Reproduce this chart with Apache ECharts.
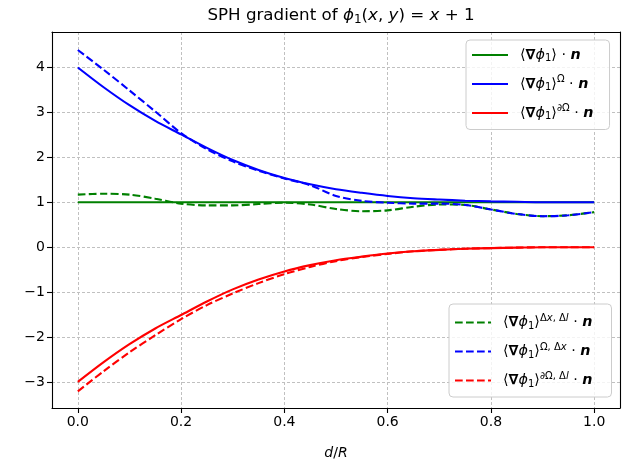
<!DOCTYPE html>
<html>
<head>
<meta charset="utf-8">
<script src="https://cdn.jsdelivr.net/npm/echarts@6/dist/echarts.min.js"></script>
<style>
  html, body { margin: 0; padding: 0; background: #fff; }
  #chart { width: 638px; height: 461px; }
</style>
</head>
<body>
<div id="chart"></div>
<script>
// d/R sample positions
const xs = [0, 0.05, 0.1, 0.15, 0.2, 0.25, 0.3, 0.35, 0.4, 0.45, 0.5,
            0.55, 0.6, 0.65, 0.7, 0.75, 0.8, 0.85, 0.9, 0.95, 1.0];
const xTicks = [0, 0.2, 0.4, 0.6, 0.8, 1.0];
const yTicks = [-3, -2, -1, 0, 1, 2, 3, 4];

// solid curves
const gradN = [1, 1, 1, 1, 1, 1, 1, 1, 1, 1, 1, 1, 1, 1, 1, 1, 1, 1, 1, 1, 1];
const gradOmega = [4.00, 3.56, 3.16, 2.81, 2.51, 2.21, 1.94, 1.72, 1.54, 1.40, 1.29,
                   1.21, 1.14, 1.09, 1.06, 1.035, 1.02, 1.01, 1.0, 1.0, 1.0];
const gradBound = [-3.00, -2.56, -2.16, -1.81, -1.51, -1.21, -0.94, -0.72, -0.54, -0.40, -0.29,
                   -0.21, -0.14, -0.09, -0.06, -0.035, -0.02, -0.01, 0, 0, 0];
// dashed curves (discrete)
const gradDisc = [1.17, 1.19, 1.17, 1.08, 0.97, 0.93, 0.93, 0.96, 0.99, 0.95, 0.85,
                  0.80, 0.82, 0.90, 0.95, 0.94, 0.84, 0.74, 0.69, 0.71, 0.78];
const gradOmegaDisc = [4.39, 3.95, 3.49, 3.02, 2.54, 2.18, 1.91, 1.70, 1.53, 1.38, 1.14,
                       1.03, 0.99, 0.97, 0.97, 0.94, 0.84, 0.74, 0.69, 0.71, 0.78];
const gradBoundDisc = [-3.21, -2.76, -2.34, -1.96, -1.60, -1.29, -1.03, -0.80, -0.60, -0.44, -0.31,
                       -0.22, -0.15, -0.09, -0.06, -0.035, -0.02, -0.01, 0, 0, 0];

const FONT = "DejaVu Sans";
const FS = 14.3;
const rich = {
  t: { fontFamily: FONT, fontSize: FS, color: "#000" },
  i: { fontFamily: FONT, fontSize: FS, fontStyle: "italic", color: "#000" },
  b: { fontFamily: FONT, fontSize: FS, fontWeight: "bold", color: "#000" },
  bi: { fontFamily: FONT, fontSize: FS, fontWeight: "bold", fontStyle: "italic", color: "#000" },
  sub: { fontFamily: FONT, fontSize: 10, color: "#000", padding: [7, 0, 0, 0] },
  sup: { fontFamily: FONT, fontSize: 10, color: "#000", padding: [0, 0, 9, 0] },
  supi: { fontFamily: FONT, fontSize: 10, fontStyle: "italic", color: "#000", padding: [0, 0, 9, 0] }
};

const head = "{t|⟨}{b|∇}{i|ϕ}{sub|1}{t|⟩}";
const labels = {
  grad: head + "{t| · }{bi|n}",
  gradO: head + "{sup|Ω}{t| · }{bi|n}",
  gradB: head + "{sup|∂Ω}{t| · }{bi|n}",
  gradD: head + "{sup|Δ}{supi|x}{sup|, Δ}{supi|l}{t| · }{bi|n}",
  gradOD: head + "{sup|Ω, Δ}{supi|x}{t| · }{bi|n}",
  gradBD: head + "{sup|∂Ω, Δ}{supi|l}{t| · }{bi|n}"
};

function pairs(arr) {
  return xs.map((x, i) => [x, arr[i]]);
}
function line(name, arr, color, dashed) {
  return {
    name: name,
    type: "line",
    data: pairs(arr),
    showSymbol: false,
    symbol: "none",
    smooth: 0.3,
    animation: false,
    lineStyle: { color: color, width: 2.1, type: dashed ? [7.7, 3.3] : "solid" },
    itemStyle: { color: color }
  };
}

const legendBase = {
  orient: "vertical",
  itemWidth: 36,
  itemHeight: 12,
  itemGap: 11,
  backgroundColor: "rgba(255,255,255,0.8)",
  borderColor: "#cccccc",
  borderWidth: 1,
  borderRadius: 4,
  itemStyle: { opacity: 0 },
  formatter: name => labels[name],
  textStyle: { rich: rich, padding: [0, 0, 0, 7] }
};

const frameAxis = {
  type: "value",
  axisLine: { show: true, onZero: false, lineStyle: { color: "#000", width: 1.1 } },
  axisTick: { show: false },
  axisLabel: { show: false },
  splitLine: { show: false }
};

const chart = echarts.init(document.getElementById("chart"), null, { renderer: "canvas" });
chart.setOption({
  animation: false,
  title: {
    text: "{t|SPH gradient of }{i|ϕ}{sub|1}{t|(}{i|x}{t|, }{i|y}{t|) = }{i|x}{t| + 1}",
    left: 336,
    top: 1,
    textAlign: "center",
    textStyle: {
      fontWeight: "normal",
      rich: {
        t: { fontFamily: FONT, fontSize: 16.7, fontWeight: "normal", color: "#000" },
        i: { fontFamily: FONT, fontSize: 16.7, fontWeight: "normal", fontStyle: "italic", color: "#000" },
        sub: { fontFamily: FONT, fontSize: 12, fontWeight: "normal", color: "#000", padding: [8, 0, 0, 0] }
      }
    }
  },
  grid: { left: 52, right: 18, top: 32, bottom: 53, outerBoundsMode: "none", containLabel: false },
  legend: [
    Object.assign({}, legendBase, {
      data: ["grad", "gradO", "gradB"],
      left: 466, top: 40,
      padding: [8, 16, 8, 5]
    }),
    Object.assign({}, legendBase, {
      data: ["gradD", "gradOD", "gradBD"],
      left: 449, top: 304,
      padding: [9, 19, 8, 5]
    })
  ],
  xAxis: [{
    type: "value",
    min: -0.05,
    max: 1.05,
    name: "{i|d}{t|/}{i|R}",
    nameLocation: "middle",
    nameGap: 38,
    nameTextStyle: {
      rich: {
        t: { fontFamily: FONT, fontSize: 14, color: "#000" },
        i: { fontFamily: FONT, fontSize: 14, fontStyle: "italic", color: "#000" }
      }
    },
    axisLine: { onZero: false, lineStyle: { color: "#000", width: 1.1 } },
    axisTick: { show: true, length: 5, customValues: xTicks, lineStyle: { color: "#000", width: 1.1 } },
    axisLabel: {
      customValues: xTicks,
      color: "#000", fontFamily: FONT, fontSize: 14, margin: 7,
      formatter: v => v.toFixed(1)
    },
    splitLine: { show: true, lineStyle: { color: "#c0c0c0", width: 1, type: [3, 2] } }
  }, Object.assign({}, frameAxis, { position: "top", min: -0.05, max: 1.05 })],
  yAxis: [{
    type: "value",
    min: -3.58,
    max: 4.79,
    axisLine: { show: true, onZero: false, lineStyle: { color: "#000", width: 1.1 } },
    axisTick: { show: true, length: 5, customValues: yTicks, lineStyle: { color: "#000", width: 1.1 } },
    axisLabel: {
      customValues: yTicks,
      color: "#000", fontFamily: FONT, fontSize: 14, margin: 7,
      formatter: v => String(v).replace("-", "\u2212")
    },
    splitLine: { show: true, lineStyle: { color: "#c0c0c0", width: 1, type: [3, 2] } }
  }, Object.assign({}, frameAxis, { position: "right", min: -3.58, max: 4.79 })],
  series: [
    line("grad", gradN, "#008000", false),
    line("gradO", gradOmega, "#0000ff", false),
    line("gradB", gradBound, "#ff0000", false),
    line("gradD", gradDisc, "#008000", true),
    line("gradOD", gradOmegaDisc, "#0000ff", true),
    line("gradBD", gradBoundDisc, "#ff0000", true)
  ]
});
</script>
</body>
</html>
